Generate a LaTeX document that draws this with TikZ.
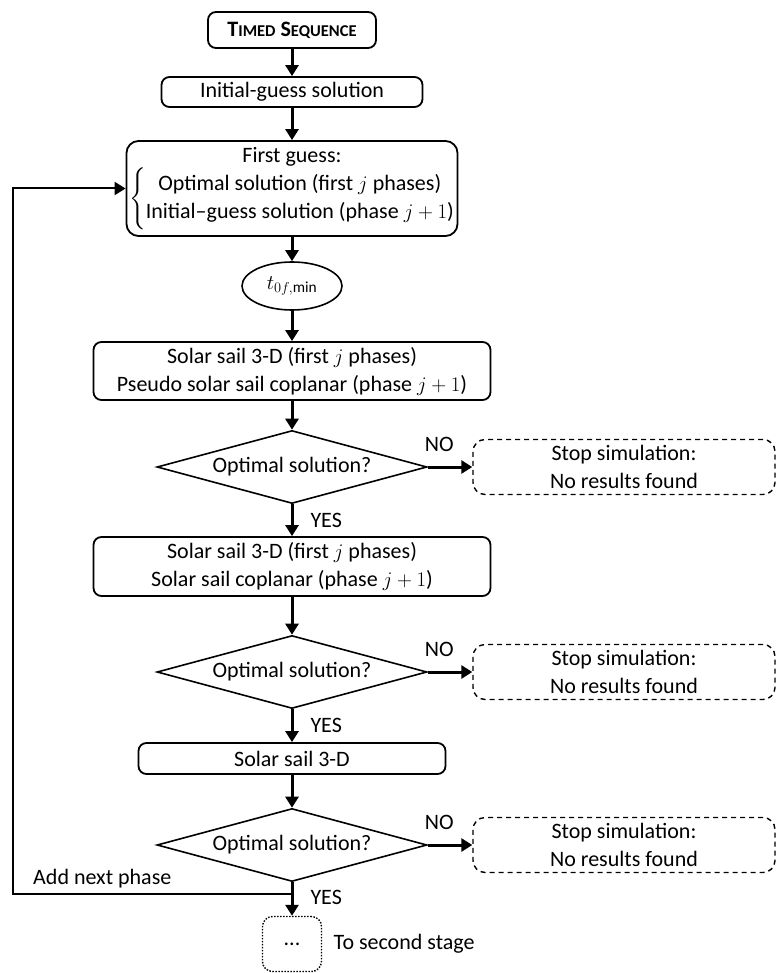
\documentclass[tikz,border=0pt]{standalone}
\usepackage{amsmath}
\usepackage{fontspec}
\setmainfont{Carlito}
\usepackage{tikz}
\usetikzlibrary{shapes,shapes.geometric,arrows,arrows.meta,fit,calc,positioning}
\newcommand{\tscaps}[1]{{\fontsize{16.5}{20}\selectfont #1}}

\begin{document}
\begin{tikzpicture}[%
    x=1pt, y=-1pt,
    >={Triangle[length=11pt,width=13pt]},
    node distance=2cm,
    on grid,
    auto,
    every node/.style={font=\fontsize{22}{28}\selectfont},
    block/.style={draw, line width=1.8pt, rounded corners=8pt, align=center, inner sep=0pt},
    decision/.style={draw, line width=1.6pt, diamond, aspect=3.7, inner sep=0pt, minimum width=270pt, minimum height=73pt},
    stopbox/.style={draw, line width=1.4pt, dash pattern=on 5pt off 4pt, rounded corners=12pt, align=center, minimum width=302pt, minimum height=55pt},
    lbl/.style={inner sep=0pt},
    flow/.style={->, line width=3pt},
    back/.style={->, line width=2pt}
  ]
  \path[use as bounding box, fill=white] (0,0) rectangle (776,973);

  \node[block, minimum width=168pt, minimum height=36pt] (ts) at (292,30) {\textbf{T\tscaps{IMED} S\tscaps{EQUENCE}}};
  \node[block, minimum width=261pt, minimum height=30pt] (ig) [below of=ts, node distance=62pt] {Initial-guess solution};
  \node[block, rounded corners=12pt, minimum width=331pt, minimum height=95pt] (fg) [below of=ts, node distance=158.5pt]
    {First guess:\\ $\left\{\begin{tabular}{@{}c@{}}Optimal solution (first $j$ phases)\\Initial–guess solution (phase $j+1$)\end{tabular}\right.$};
  \node[draw, ellipse, line width=1.6pt, minimum width=100pt, minimum height=48pt, inner sep=0pt] (tm) [below of=fg, node distance=97.5pt] {$t_{0f,\min}$};
  \node[block, minimum width=397pt, minimum height=58pt] (s3) [below of=tm, node distance=85pt]
    {Solar sail 3-D (first $j$ phases)\\Pseudo solar sail coplanar (phase $j+1$)};
  \node[decision] (d1) [below of=s3, node distance=96pt] {Optimal solution?};
  \node[block, minimum width=397pt, minimum height=59pt] (s4) [below of=d1, node distance=99.5pt]
    {Solar sail 3-D (first $j$ phases)\\Solar sail coplanar (phase $j+1$)};
  \node[decision] (d2) [below of=s4, node distance=105.5pt] {Optimal solution?};
  \node[block, minimum width=307pt, minimum height=31pt] (s5) [below of=d2, node distance=86.5pt] {Solar sail 3-D};
  \node[decision] (d3) [below of=s5, node distance=86.5pt] {Optimal solution?};
  \node[draw, line width=1.4pt, dash pattern=on 1.5pt off 1.5pt, rounded corners=10pt, minimum width=59pt, minimum height=55pt] (nx) [below of=d3, node distance=99pt] {...};
  \node[anchor=west] (ns) at ([xshift=8pt]nx.east) {To second stage};

  \node[stopbox] (st1) [right of=d1, node distance=332pt] {Stop simulation:\\No results found};
  \node[stopbox] (st2) [right of=d2, node distance=332pt] {Stop simulation:\\No results found};
  \node[stopbox] (st3) [right of=d3, node distance=332pt] {Stop simulation:\\No results found};

  \coordinate (lc) at (13,0);
  \coordinate (jn) at ($(d3.south)+(0,12)$);

  \draw[flow] (ts) -- (ig);
  \draw[flow] (ig) -- (fg);
  \draw[flow] (fg) -- (tm);
  \draw[flow] (tm) -- (s3);
  \draw[flow] (s3) -- (d1);
  \draw[flow] (d1) -- node[lbl, right=17pt, midway] {YES} (s4);
  \draw[flow] (s4) -- (d2);
  \draw[flow] (d2) -- node[lbl, right=17pt, midway] {YES} (s5);
  \draw[flow] (s5) -- (d3);
  \draw[flow] (d3) -- node[lbl, right=17pt, pos=0.45] {YES} (nx);
  \draw[flow] (d1) -- node[lbl, above=14pt, pos=0.26] {NO} (st1);
  \draw[flow] (d2) -- node[lbl, above=14pt, pos=0.26] {NO} (st2);
  \draw[flow] (d3) -- node[lbl, above=14pt, pos=0.26] {NO} (st3);
  \draw[back] (jn) -- node[lbl, above=5pt, pos=0.68] {Add next phase} (lc |- jn) |- (fg.west);

  \end{tikzpicture}
\end{document}
